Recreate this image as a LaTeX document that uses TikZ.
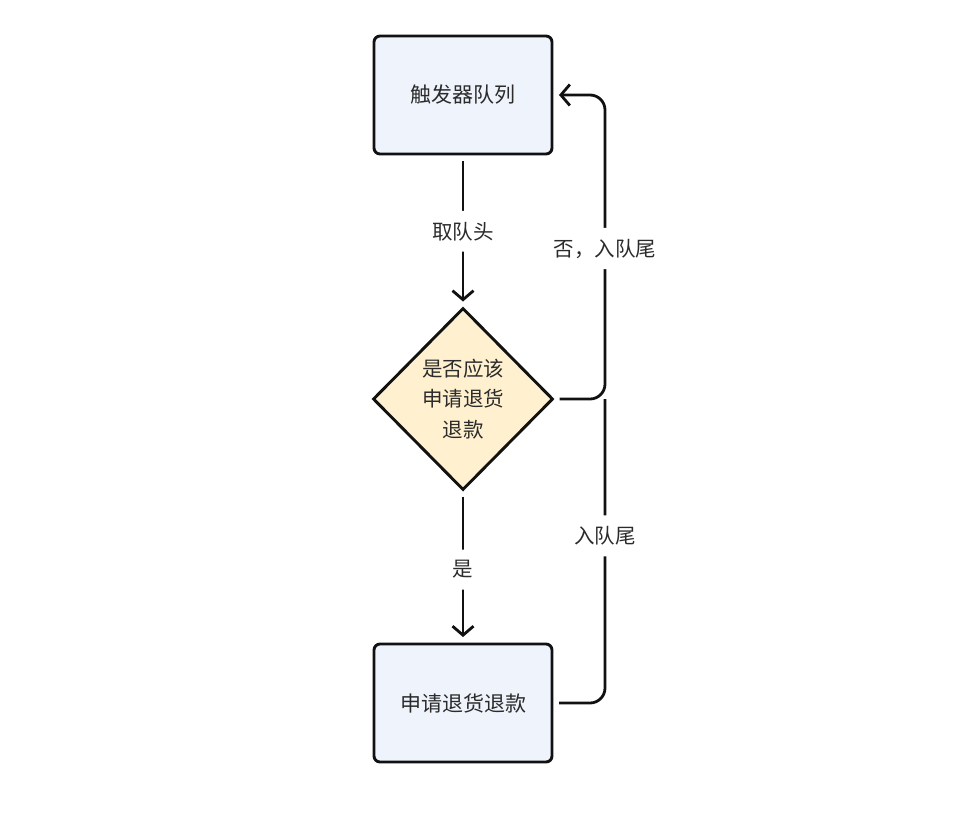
\documentclass[tikz,border=0pt]{standalone}
\usepackage{fontspec}
\setmainfont{Noto Sans CJK SC}
\usetikzlibrary{shapes.geometric,arrows.meta}
\definecolor{boxfill}{HTML}{EEF3FC}
\definecolor{decfill}{HTML}{FFF1CF}
\definecolor{txt}{HTML}{2B2B2B}
\definecolor{ln}{HTML}{111111}
\tikzset{
  procbox/.style={draw=ln, line width=2.9pt, fill=boxfill, rounded corners=6pt,
    minimum width=178pt, minimum height=118pt, inner sep=0pt, outer sep=7pt,
    font=\fontsize{21}{30}\selectfont, text=txt},
  decbox/.style={draw=ln, line width=2.9pt, fill=decfill, diamond, aspect=1,
    minimum width=183pt, minimum height=185pt, inner sep=0pt, outer sep=5pt,
    align=center, font=\fontsize{20.5}{30.5}\selectfont, text=txt},
  conn/.style={draw=ln, line width=2.8pt, rounded corners=15pt},
  arr/.style={conn, -{Straight Barb[length=9pt,width=21pt,line width=2.8pt]}},
  lbl/.style={fill=white, inner xsep=2pt, inner ysep=11pt, text=txt,
    font=\fontsize{20.5}{24}\selectfont}
}
\begin{document}
\begin{tikzpicture}[x=1pt,y=-1pt]
\useasboundingbox (0,0) rectangle (973,812);
\node[procbox] (q) at (463,95) {触发器队列};
\node[decbox] (d) at (463,399) {是否应该\\申请退货\\退款};
\node[procbox] (r) at (463,703) {申请退货退款};
\coordinate (j) at (605,399);
\coordinate (t) at (605,95);
\coordinate (b) at (605,703);
\draw[arr] (q.south) -- node[lbl] {取队头} (d.north);
\draw[arr] (d.south) -- node[lbl, pos=0.52] {是} (r.north);
\draw[arr] (d.east) -- (j) -- node[lbl, pos=0.495] {否，入队尾} (t) -- (q.east);
\draw[conn] (r.east) -- (b) -- node[lbl, pos=0.55] {入队尾} (j);
\end{tikzpicture}
\end{document}
